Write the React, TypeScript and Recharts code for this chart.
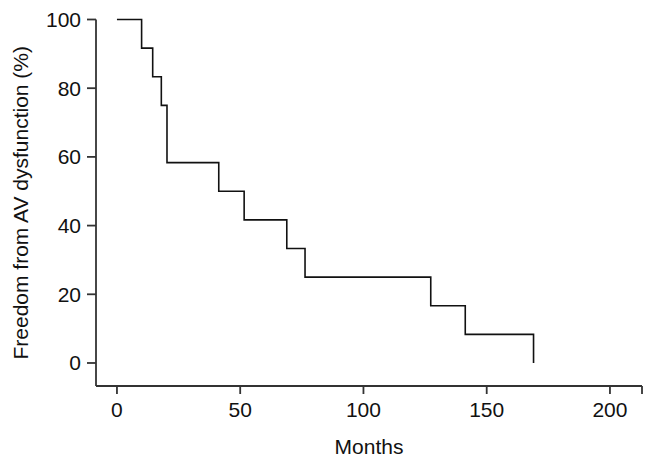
import { CartesianGrid, Line, LineChart, XAxis, YAxis } from "recharts";

// Kaplan-Meier freedom from AV dysfunction (12 patients)
const months = [0, 10, 14.5, 18, 20.3, 41.3, 51.6, 68.9, 76.3, 127.3, 141.3, 169];
const freedom = [100, 91.67, 83.33, 75, 58.33, 50, 41.67, 33.33, 25, 16.67, 8.33, 0];

const xTicks = [0, 50, 100, 150, 200, 213];
const yTicks = [0, 20, 40, 60, 80, 100];

const FONT = "'Liberation Sans', Arial, Helvetica, sans-serif";
const AXIS = "#333";

export default function App() {
  const data = months.map((m, i) => ({ month: m, freedom: freedom[i] }));

  return (
    <div style={{ position: "absolute", left: 0, top: 0, background: "#fff" }}>
      <LineChart
        width={655}
        height={465}
        data={data}
        margin={{ top: 19.5, right: 13, left: 0, bottom: 11 }}
      >
        <CartesianGrid stroke="none" />
        <XAxis
          dataKey="month"
          type="number"
          domain={[-8.5, 213]}
          ticks={xTicks}
          interval={0}
          tickFormatter={(v) => (v === 213 ? "" : String(v))}
          stroke={AXIS}
          strokeWidth={1.8}
          tickSize={8}
          tickMargin={8}
          height={68}
          tick={{ fill: "#111", fontSize: 21, fontFamily: FONT }}
          label={{
            value: "Months",
            position: "insideBottom",
            offset: 0,
            style: { fill: "#111", fontSize: 21, fontFamily: FONT },
          }}
        />
        <YAxis
          type="number"
          domain={[-6.7, 100]}
          ticks={yTicks}
          interval={0}
          stroke={AXIS}
          strokeWidth={1.8}
          tickSize={9}
          tickMargin={6}
          width={96}
          tick={{ fill: "#111", fontSize: 21, fontFamily: FONT }}
          label={{
            value: "Freedom from AV dysfunction (%)",
            angle: -90,
            position: "insideLeft",
            offset: 21,
            style: { textAnchor: "middle", fill: "#111", fontSize: 21, fontFamily: FONT },
          }}
        />
        <Line
          type="stepAfter"
          dataKey="freedom"
          stroke="#111"
          strokeWidth={1.6}
          dot={false}
          activeDot={false}
          isAnimationActive={false}
        />
      </LineChart>
    </div>
  );
}
